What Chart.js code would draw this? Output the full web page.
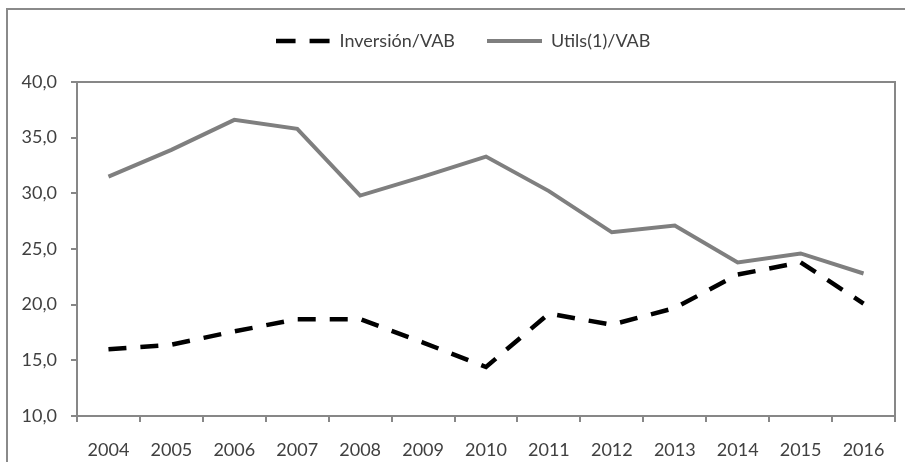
<!DOCTYPE html>
<html>
<head>
<meta charset="utf-8">
<script src="https://cdn.jsdelivr.net/npm/chart.js@4/dist/chart.umd.min.js"></script>
<style>
  html, body { margin: 0; padding: 0; background: #ffffff; }
  #wrap { width: 905px; height: 462px; position: relative; }
</style>
</head>
<body>
<div id="wrap"><canvas id="c" width="905" height="462"></canvas></div>
<script>
const years = ['2004','2005','2006','2007','2008','2009','2010','2011','2012','2013','2014','2015','2016'];
const inversionVAB = [16.0, 16.4, 17.6, 18.7, 18.7, 16.6, 14.4, 19.2, 18.2, 19.7, 22.7, 23.8, 20.1];
const utilsVAB = [31.5, 33.9, 36.6, 35.8, 29.8, 31.5, 33.3, 30.2, 26.5, 27.1, 23.8, 24.6, 22.8];
const seriesNames = ['Inversión/VAB', 'Utils(1)/VAB'];
const yMin = 10, yMax = 40, yStep = 5;

const FONT = 'Lato';
const TEXT = '#404040';
const AXIS = '#878787';
const LEGEND_W = 55;

function legendIcon(color, width, dash) {
  const c = document.createElement('canvas');
  c.width = LEGEND_W; c.height = 8;
  const g = c.getContext('2d');
  g.strokeStyle = color;
  g.lineWidth = width;
  g.setLineDash(dash);
  g.beginPath();
  g.moveTo(0, 4);
  g.lineTo(LEGEND_W, 4);
  g.stroke();
  return c;
}

const framePlugin = {
  id: 'frame',
  beforeInit(chart) {
    const lg = chart.legend;
    if (lg) {
      const orig = lg.fit.bind(lg);
      lg.fit = function () { orig(); this.height = 82; };
    }
  },
  afterLayout(chart) {
    const lg = chart.legend;
    if (lg) { lg.left += 12; lg.right += 12; }
  },
  beforeDraw(chart) {
    const ctx = chart.ctx;
    ctx.save();
    ctx.fillStyle = '#ffffff';
    ctx.fillRect(0, 0, chart.width, chart.height);
    ctx.strokeStyle = '#8a8a8a';
    ctx.lineWidth = 2;
    ctx.beginPath();
    ctx.moveTo(7, chart.height);
    ctx.lineTo(7, 9);
    ctx.lineTo(chart.width, 9);
    ctx.stroke();
    ctx.restore();
  },
  afterDraw(chart) {
    const a = chart.chartArea, ctx = chart.ctx;
    ctx.save();
    ctx.strokeStyle = AXIS;
    ctx.lineWidth = 2;
    ctx.beginPath();
    ctx.moveTo(a.left, a.top);
    ctx.lineTo(a.right, a.top);
    ctx.lineTo(a.right, a.bottom);
    ctx.stroke();
    ctx.restore();
  }
};

const icons = [
  legendIcon('#000000', 4.5, [20, 14]),
  legendIcon('#7f7f7f', 4, [])
];

new Chart(document.getElementById('c'), {
  type: 'line',
  data: {
    labels: years,
    datasets: [
      {
        label: seriesNames[0],
        data: inversionVAB,
        borderColor: '#000000',
        backgroundColor: '#000000',
        borderWidth: 4.5,
        borderDash: [18, 14],
        pointRadius: 0,
        tension: 0,
        fill: false
      },
      {
        label: seriesNames[1],
        data: utilsVAB,
        borderColor: '#7f7f7f',
        backgroundColor: '#7f7f7f',
        borderWidth: 4,
        pointRadius: 0,
        tension: 0,
        fill: false
      }
    ]
  },
  options: {
    responsive: false,
    animation: false,
    devicePixelRatio: 1,
    layout: { padding: { left: 7, right: 10, top: 0, bottom: 0 } },
    plugins: {
      tooltip: { enabled: false },
      legend: {
        display: true,
        position: 'top',
        align: 'center',
        labels: {
          usePointStyle: true,
          pointStyleWidth: LEGEND_W,
          boxHeight: 18,
          padding: 32,
          color: TEXT,
          font: { family: FONT, size: 18 },
          generateLabels(chart) {
            const items = Chart.defaults.plugins.legend.labels.generateLabels(chart);
            items.forEach((it, i) => { it.pointStyle = icons[i]; });
            return items;
          }
        }
      }
    },
    scales: {
      x: {
        type: 'category',
        offset: true,
        afterFit(s) { s.height = 46; },
        border: { display: true, color: AXIS, width: 2 },
        grid: { display: true, offset: true, drawOnChartArea: false, drawTicks: true, tickLength: 6, color: AXIS, lineWidth: 2 },
        ticks: { color: TEXT, font: { family: FONT, size: 18 }, padding: 17, maxRotation: 0, autoSkip: false }
      },
      y: {
        min: yMin,
        max: yMax,
        afterFit(s) { s.width = 70; },
        border: { display: true, color: AXIS, width: 2 },
        grid: { display: true, drawOnChartArea: false, drawTicks: true, tickLength: 6, color: AXIS, lineWidth: 2 },
        ticks: {
          stepSize: yStep,
          color: TEXT,
          font: { family: FONT, size: 18 },
          padding: 14,
          callback: v => Number(v).toFixed(1).replace('.', ',')
        }
      }
    }
  },
  plugins: [framePlugin]
});
</script>
</body>
</html>
